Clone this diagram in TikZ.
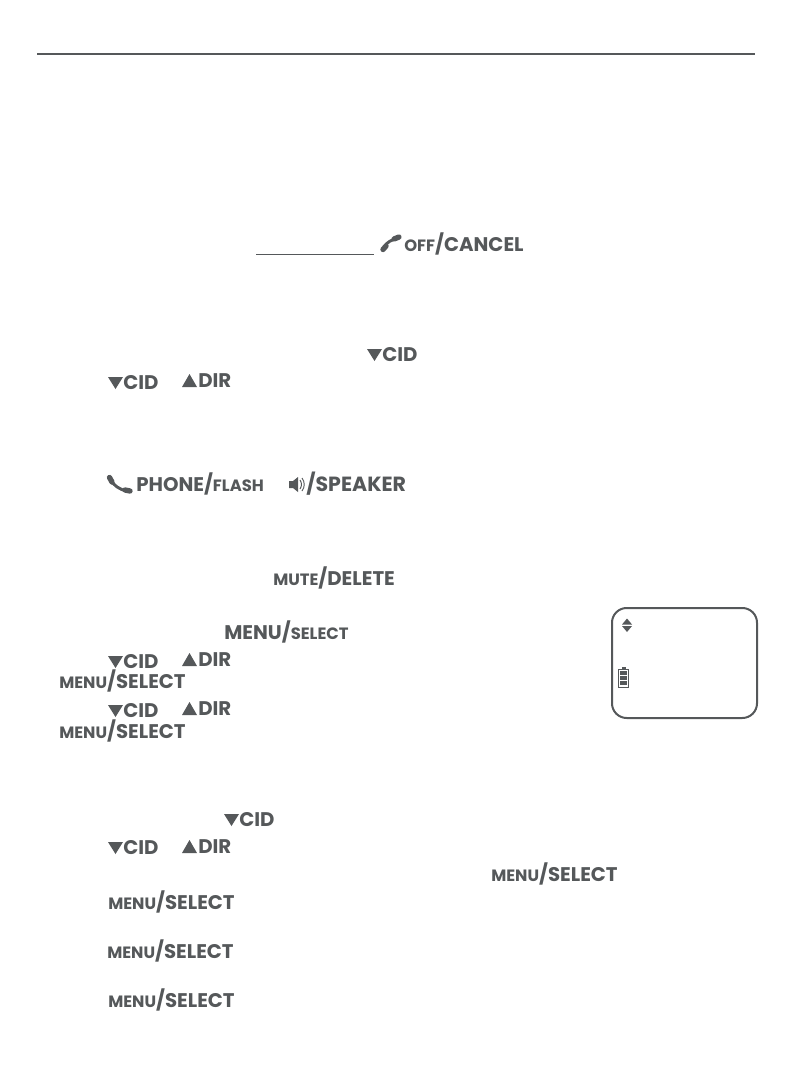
\documentclass[tikz,border=0pt]{standalone}
\usepackage{fontspec}
\setmainfont{Poppins}
\definecolor{keygray}{HTML}{55585A}
\newcommand{\smc}[1]{{\fontsize{12.3}{13}\selectfont #1}}
\newcommand{\selkey}{\smc{MENU}/SELECT}
\tikzset{every node/.style={inner sep=0pt,anchor=base west,yshift=-0.6pt,text=keygray,font=\bfseries\fontsize{14.8}{16}\selectfont}}
\begin{document}
\begin{tikzpicture}[x=0.75pt,y=-0.75pt]
      \useasboundingbox (0,0) rectangle (794,1077);
      \draw[keygray,line width=1pt] (37,54) coordinate (ruleL) -- (755,54) coordinate (ruleR);
      \draw[keygray,line width=0.7pt] (256,254.5) coordinate (lineL) -- (374,254.5) coordinate (lineR);

      % handset, off
      \draw[keygray,line width=2.2pt] (384,247) .. controls (386,243) and (392,239) .. (398,238.5);
      \draw[keygray,line width=4pt,line cap=round] (383,249.5) -- (386,246);
      \draw[keygray,line width=4pt,line cap=round] (394,239) -- (399,237);
      \node (offkey) at (404,251) {\smc{OFF}/CANCEL};

      % cid and dir keys
      \foreach \x/\y/\n in {367/361/a, 108/389/b, 108/668/c, 108/717/d, 224/826/e, 108/854/f}
      {
      \fill[keygray] (\x,\y-12) -- (\x+15,\y-12) -- (\x+7.5,\y) -- cycle;
      \node (cid\n) at (\x+15,\y) {CID};
      }
      \foreach \y/\n in {387/a, 666/b, 715/c, 853/d}
      {
      \fill[keygray] (182,\y) -- (197,\y) -- (189.5,\y-13) -- cycle;
      \node (dir\n) at (198,\y) {DIR};
      }

      % phone and speaker
      \draw[keygray,line width=2.2pt] (111,480) .. controls (113,485) and (120,490) .. (127,491);
      \draw[keygray,line width=4pt,line cap=round] (109.5,477.5) -- (112,482);
      \draw[keygray,line width=4pt,line cap=round] (125,490) -- (130,491);
      \node (phonekey) at (136,491) {PHONE/\smc{FLASH}};
      \fill[keygray] (289,481) -- (293,481) -- (298,477) -- (298,492) -- (293,488) -- (289,488) -- cycle;
      \draw[keygray,line width=0.7pt] (300,480) .. controls (302,483) and (302,486) .. (300,489);
      \draw[keygray,line width=0.7pt] (302,478) .. controls (305,482) and (305,487) .. (302,491);
      \node[font=\bfseries\fontsize{15.4}{16}\selectfont] (speakerkey) at (306,491) {/SPEAKER};

      \node (mutekey) at (273,585) {\smc{MUTE}/DELETE};
      \node (menukey) at (224,639) {MENU/\smc{SELECT}};

      % select keys
      \foreach \x/\y/\n in {59/688/a, 59/738/b, 491/881/c, 108/909/d, 107/958/e, 108/1007/f}
      \node (sel\n) at (\x,\y) {\selkey};

      % handset screen
      \draw[keygray,line width=1.5pt,rounded corners=11pt] (612,608) rectangle (757,718);
      \fill[keygray] (627,618.5) -- (632,624.5) -- (622,624.5) -- cycle;
      \fill[keygray] (627,632) -- (632,626) -- (622,626) -- cycle;
      \draw[keygray,line width=0.6pt] (618.5,669) rectangle (628.5,687.5);
      \fill[keygray] (621.5,666.5) rectangle (625.5,669);
      \foreach \y in {671,676,681}
      \fill[keygray] (620,\y) rectangle (627,\y+4);
    \end{tikzpicture}
\end{document}
